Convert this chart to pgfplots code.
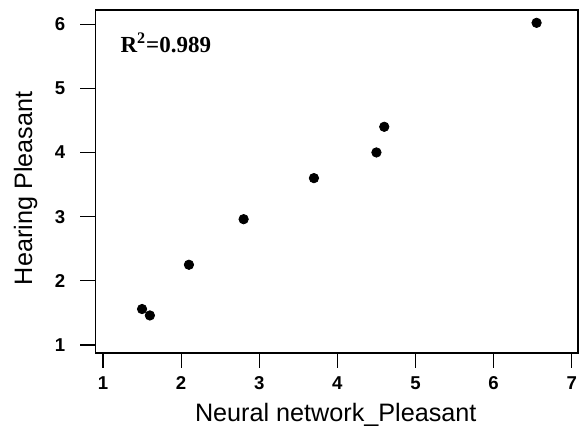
\documentclass[border=0pt]{standalone}
\usepackage{pgfplots}
\pgfplotsset{compat=1.18}
\usepackage{fontspec}
\setmainfont{Liberation Sans}
\newfontfamily\timesfont{Liberation Serif}

\begin{document}
\begin{tikzpicture}
\path[use as bounding box] (-47.75pt,-36.5pt) rectangle (241.75pt,176.5pt);
\begin{axis}[
    at={(0,0)}, anchor=south west,
    scale only axis,
    width=241.25pt, height=171.5pt,
    xmin=0.904, xmax=7.08,
    ymin=0.875, ymax=6.22,
    xtick={1,2,3,4,5,6,7},
    ytick={1,2,3,4,5,6},
    tick pos=left,
    tick align=outside,
    major tick length=7.5pt,
    axis line style={line width=0.75pt},
    every tick/.style={black, line width=0.6pt},
    ticklabel style={font=\fontsize{9.3}{10}\selectfont\bfseries},
    yticklabel style={anchor=east, inner sep=0pt, xshift=-7.5pt},
    xticklabel style={anchor=north, inner sep=0pt, yshift=-4pt},
    /pgf/number format/assume math mode=true,
    xlabel={Neural network\_Pleasant},
    ylabel={Hearing Pleasant},
    label style={font=\fontsize{12.6}{14}\selectfont},
    xlabel style={at={(axis description cs:0.498,-0.179)}, anchor=center},
    ylabel style={at={(axis description cs:-0.145,0.48)}, anchor=center, rotate=0},
]
\addplot[only marks, mark=*, mark size=2.35pt, black] coordinates {
    (1.5,1.56) (1.6,1.46) (2.1,2.25) (2.8,2.96)
    (3.7,3.6) (4.5,4.0) (4.6,4.4) (6.55,6.02)
};
\node[anchor=west, inner sep=0pt, font=\timesfont\fontsize{11.5}{12}\selectfont\bfseries]
    at (rel axis cs:0.051,0.904) {R\textsuperscript{2}=0.989};
\end{axis}
\end{tikzpicture}
\end{document}
